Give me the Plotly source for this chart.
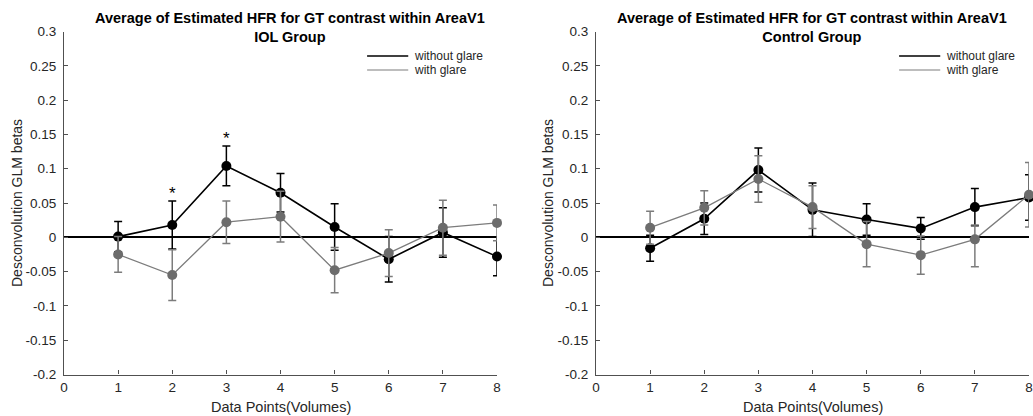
import plotly.graph_objects as go

# Volume index (x positions of the estimated HFR points)
volumes = [1, 2, 3, 4, 5, 6, 7, 8]

# IOL group
iol_without_glare = [0.001, 0.018, 0.104, 0.065, 0.015, -0.032, 0.007, -0.028]
iol_without_glare_err = [0.022, 0.035, 0.029, 0.028, 0.034, 0.033, 0.036, 0.028]
iol_with_glare = [-0.025, -0.055, 0.022, 0.030, -0.048, -0.023, 0.014, 0.021]
iol_with_glare_err = [0.026, 0.037, 0.031, 0.037, 0.033, 0.034, 0.040, 0.026]
iol_significant = [2, 3]

# Control group
ctl_without_glare = [-0.016, 0.027, 0.098, 0.040, 0.026, 0.013, 0.044, 0.058]
ctl_without_glare_err = [0.019, 0.023, 0.032, 0.039, 0.023, 0.016, 0.027, 0.033]
ctl_with_glare = [0.014, 0.043, 0.085, 0.044, -0.010, -0.026, -0.003, 0.062]
ctl_with_glare_err_up = [0.024, 0.025, 0.034, 0.031, 0.033, 0.028, 0.021, 0.047]
ctl_with_glare_err_down = [0.024, 0.025, 0.034, 0.031, 0.033, 0.028, 0.040, 0.047]

# Axis ticks
x_tickvals = [0, 1, 2, 3, 4, 5, 6, 7, 8]
y_tickvals = [-0.2, -0.15, -0.1, -0.05, 0, 0.05, 0.1, 0.15, 0.2, 0.25, 0.3]
y_ticktext = ["-0.2", "-0.15", "-0.1", "-0.05", "0", "0.05", "0.1", "0.15", "0.2", "0.25", "0.3"]

title_line = "Average of Estimated HFR for GT contrast within AreaV1"
panel_groups = ["IOL Group", "Control Group"]
series_names = ["without glare", "with glare"]

FONT = "Liberation Sans, Arial, sans-serif"
BLACK = "#000000"
GRAY_LINE = "#7c7c7c"
GRAY_MARK = "#6c6c6c"
AXIS = "#505050"
TEXT = "#262626"

W, H = 1033, 416


def err(arr, arr_minus=None):
    d = dict(type="data", array=arr, visible=True, width=4, thickness=1.5)
    if arr_minus is not None:
        d["symmetric"] = False
        d["arrayminus"] = arr_minus
    return d


fig = go.Figure()

panels = [
    ("x", "y", iol_without_glare, iol_without_glare_err, iol_with_glare, iol_with_glare_err, None),
    ("x2", "y2", ctl_without_glare, ctl_without_glare_err, ctl_with_glare,
     ctl_with_glare_err_up, ctl_with_glare_err_down),
]

for xa, ya, wo, wo_e, wi, wi_e_up, wi_e_dn in panels:
    e = err(wo_e)
    e["color"] = BLACK
    fig.add_trace(go.Scatter(
        x=volumes, y=wo, mode="lines+markers", name=series_names[0],
        line=dict(color=BLACK, width=1.6),
        marker=dict(color=BLACK, size=10),
        error_y=e, xaxis=xa, yaxis=ya, showlegend=False, cliponaxis=False,
    ))
    e = err(wi_e_up, wi_e_dn)
    e["color"] = GRAY_LINE
    fig.add_trace(go.Scatter(
        x=volumes, y=wi, mode="lines+markers", name=series_names[1],
        line=dict(color=GRAY_LINE, width=1.3),
        marker=dict(color=GRAY_MARK, size=10),
        error_y=e, xaxis=xa, yaxis=ya, showlegend=False, cliponaxis=False,
    ))

# Significance markers above the upper error bar
for v in iol_significant:
    i = volumes.index(v)
    top = iol_without_glare[i] + iol_without_glare_err[i]
    fig.add_annotation(x=v, y=top + 0.017, xref="x", yref="y", text="*",
                       showarrow=False, yanchor="middle", yshift=-4,
                       font=dict(family=FONT, size=17, color=BLACK))

x_domains = [[64 / W, 497 / W], [596 / W, 1029 / W]]
y_domain = [1 - 374.5 / H, 1 - 31.5 / H]

axis_common = dict(
    showline=True, linecolor=AXIS, linewidth=1.2,
    ticks="inside", ticklen=4, tickcolor=AXIS, tickwidth=1,
    showgrid=False, mirror=False, automargin=False,
    tickfont=dict(family=FONT, size=13.5, color=TEXT),
)

for k, (xa, ya) in enumerate([("xaxis", "yaxis"), ("xaxis2", "yaxis2")]):
    fig.update_layout({
        xa: dict(axis_common, domain=x_domains[k], range=[0, 8],
                 tickvals=x_tickvals, zeroline=False, ticklabelstandoff=0,
                 anchor="y" if k == 0 else "y2"),
        ya: dict(axis_common, domain=y_domain, range=[-0.2, 0.3],
                 tickvals=y_tickvals, ticktext=y_ticktext,
                 zeroline=True, zerolinecolor=BLACK, zerolinewidth=1.5,
                 ticklabelstandoff=4,
                 anchor="x" if k == 0 else "x2"),
    })

# Panel titles, axis titles and legends
for k in range(2):
    x0, x1 = x_domains[k]
    xc = (x0 + x1) / 2
    title_x = 290 / W if k == 0 else 812 / W
    fig.add_annotation(
        x=title_x, y=1 - 28 / H, xref="paper", yref="paper",
        text=f"<b>{title_line}</b><br><b>{panel_groups[k]}</b>",
        showarrow=False, xanchor="center", yanchor="middle",
        font=dict(family=FONT, size=14.5, color=BLACK),
    )
    fig.add_annotation(
        x=xc, y=1 - 407 / H, xref="paper", yref="paper",
        text="Data Points(Volumes)", showarrow=False,
        xanchor="center", yanchor="middle",
        font=dict(family=FONT, size=14.5, color=TEXT),
    )
    fig.add_annotation(
        x=(17 if k == 0 else 548) / W, y=(y_domain[0] + y_domain[1]) / 2,
        xref="paper", yref="paper", text="Desconvolution GLM betas",
        textangle=-90, showarrow=False, xanchor="center", yanchor="middle",
        font=dict(family=FONT, size=14, color=TEXT),
    )
    xd = "x domain" if k == 0 else "x2 domain"
    yd = "y domain" if k == 0 else "y2 domain"
    for j, (name, col, lw) in enumerate([(series_names[0], BLACK, 1.6),
                                          (series_names[1], GRAY_LINE, 1.2)]):
        yy = (0.9286 if j == 0 else 0.8878)
        fig.add_shape(type="line", xref=xd, yref=yd, x0=0.70, x1=0.795,
                      y0=yy, y1=yy, line=dict(color=col, width=lw))
        fig.add_annotation(x=0.803, y=yy, xref=xd, yref=yd, text=name,
                           showarrow=False, xanchor="left", yanchor="middle",
                           font=dict(family=FONT, size=12, color=TEXT))

fig.update_layout(
    width=W, height=H, autosize=False,
    margin=dict(l=0, r=0, t=0, b=0, autoexpand=False),
    paper_bgcolor="white", plot_bgcolor="white",
    showlegend=False,
    font=dict(family=FONT, color=TEXT),
)

fig.write_html("out.html")
